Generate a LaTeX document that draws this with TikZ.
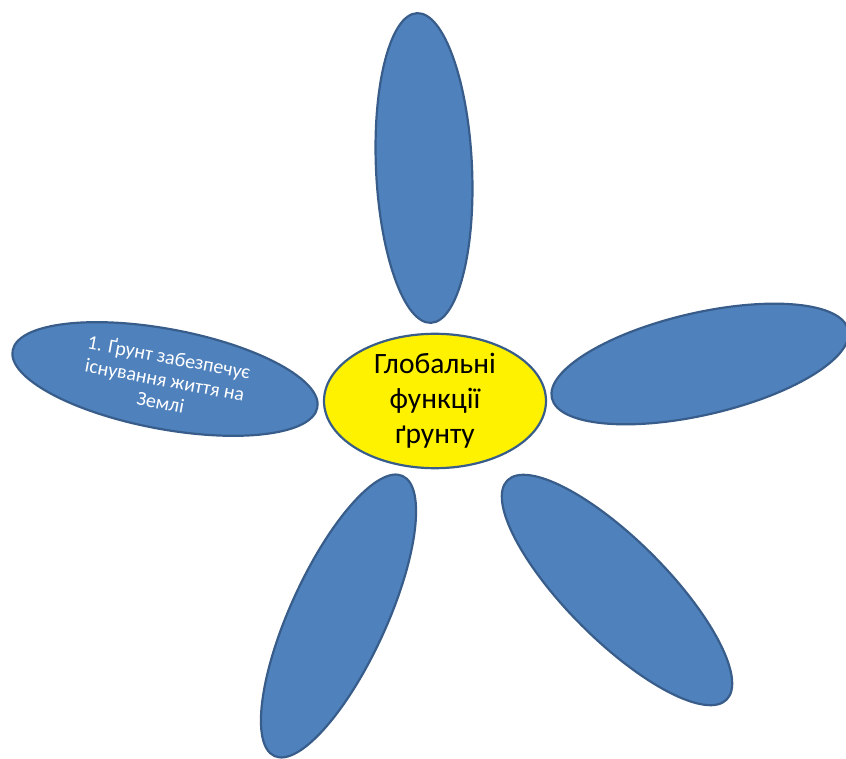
\documentclass[tikz,border=0pt]{standalone}
\usepackage{fontspec}
\setmainfont{Carlito}
\usepackage{tikz}
\usetikzlibrary{shapes.geometric}
\definecolor{petalblue}{HTML}{4F81BD}
\definecolor{petaledge}{HTML}{385D8A}

\begin{document}
\begin{tikzpicture}[x=1pt,y=1pt,
petal/.style={ellipse,draw=petaledge,fill=petalblue,line width=2.2pt,inner sep=0pt,
  text=white,font=\fontsize{20}{23}\selectfont,align=center},
hub/.style={ellipse,draw=petaledge,fill=yellow,line width=2.2pt,inner sep=0pt,
  minimum width=222pt,minimum height=132pt,font=\fontsize{29.5}{35}\selectfont,align=center}]
\useasboundingbox(0,0)rectangle(846,758);
\node[petal,rotate=92.6,minimum width=310pt,minimum height=96pt](up)at(424,590){};
\node[petal,rotate=-10.6,minimum width=310pt,minimum height=100pt](left)at(165,379)
  {1. Ґрунт забезпечує\\існування життя на\\Землі};
\node[petal,rotate=13,minimum width=304pt,minimum height=102pt](right)at(700,394){};
\node[petal,rotate=65.4,minimum width=308pt,minimum height=96pt](downleft)at(338.5,142){};
\node[petal,rotate=-45,minimum width=310pt,minimum height=100pt](downright)at(617,168){};
\node[hub](hub)at(435,357){Глобальні\\функції\\ґрунту};
\end{tikzpicture}
\end{document}
